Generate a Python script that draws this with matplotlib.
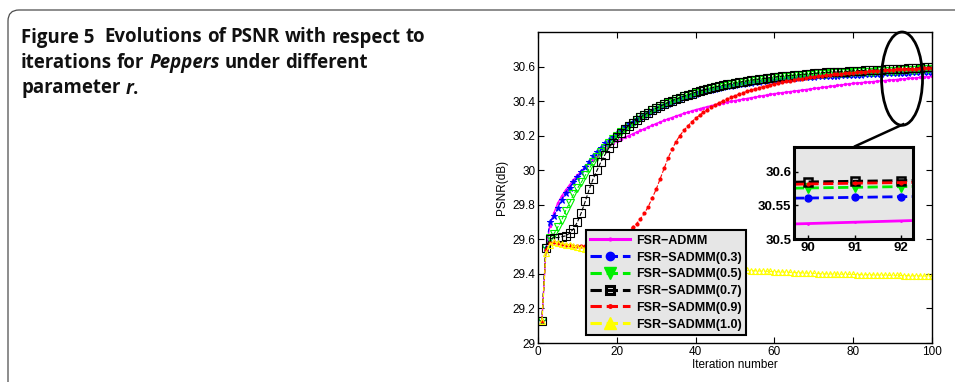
import matplotlib
matplotlib.use("Agg")
import matplotlib.pyplot as plt
from matplotlib.lines import Line2D
from matplotlib.patches import Ellipse, FancyBboxPatch
from matplotlib.ticker import FuncFormatter
from matplotlib.transforms import IdentityTransform

plt.rcParams["font.family"] = ["Liberation Sans", "DejaVu Sans"]

# iteration index
iters = list(range(1, 101))

psnr_admm = [
    29.13, 29.53, 29.68, 29.75, 29.81, 29.85, 29.885, 29.915, 29.945, 29.97,
    29.995, 30.02, 30.04, 30.06, 30.08, 30.10, 30.12, 30.14, 30.155, 30.17,
    30.18, 30.19, 30.20, 30.21, 30.22, 30.23, 30.24, 30.25, 30.26, 30.27,
    30.279, 30.288, 30.297, 30.305, 30.313, 30.321, 30.329, 30.336, 30.343, 30.35,
    30.356, 30.362, 30.368, 30.374, 30.379, 30.384, 30.389, 30.394, 30.398, 30.403,
    30.407, 30.411, 30.415, 30.419, 30.423, 30.427, 30.431, 30.435, 30.439, 30.443,
    30.446, 30.449, 30.452, 30.455, 30.458, 30.461, 30.464, 30.467, 30.47, 30.473,
    30.476, 30.479, 30.482, 30.485, 30.488, 30.491, 30.494, 30.497, 30.5, 30.503,
    30.505, 30.507, 30.509, 30.511, 30.513, 30.515, 30.517, 30.519, 30.521, 30.523,
    30.525, 30.527, 30.529, 30.531, 30.533, 30.535, 30.537, 30.539, 30.541, 30.543,
]
psnr_r03 = [
    29.13, 29.55, 29.70, 29.735, 29.78, 29.83, 29.87, 29.90, 29.93, 29.96,
    29.99, 30.02, 30.05, 30.08, 30.105, 30.13, 30.155, 30.175, 30.195, 30.215,
    30.232, 30.249, 30.265, 30.28, 30.294, 30.308, 30.321, 30.333, 30.344, 30.355,
    30.365, 30.376, 30.386, 30.396, 30.405, 30.414, 30.422, 30.43, 30.437, 30.444,
    30.45, 30.456, 30.462, 30.467, 30.472, 30.477, 30.482, 30.486, 30.49, 30.494,
    30.498, 30.501, 30.504, 30.507, 30.51, 30.513, 30.516, 30.519, 30.521, 30.523,
    30.525, 30.527, 30.529, 30.531, 30.533, 30.535, 30.537, 30.539, 30.541, 30.542,
    30.543, 30.544, 30.545, 30.546, 30.547, 30.548, 30.549, 30.55, 30.551, 30.552,
    30.553, 30.554, 30.555, 30.556, 30.557, 30.558, 30.559, 30.56, 30.5605, 30.561,
    30.562, 30.563, 30.564, 30.565, 30.566, 30.567, 30.568, 30.569, 30.57, 30.571,
]
psnr_r05 = [
    29.13, 29.55, 29.61, 29.63, 29.67, 29.71, 29.765, 29.81, 29.86, 29.895,
    29.93, 29.97, 30.01, 30.045, 30.075, 30.105, 30.13, 30.155, 30.178, 30.2,
    30.22, 30.24, 30.258, 30.275, 30.291, 30.306, 30.32, 30.334, 30.347, 30.359,
    30.37, 30.381, 30.391, 30.401, 30.41, 30.419, 30.427, 30.435, 30.442, 30.449,
    30.456, 30.462, 30.468, 30.474, 30.479, 30.484, 30.489, 30.494, 30.498, 30.502,
    30.506, 30.51, 30.514, 30.517, 30.52, 30.523, 30.526, 30.529, 30.532, 30.535,
    30.537, 30.539, 30.541, 30.543, 30.545, 30.547, 30.549, 30.551, 30.553, 30.555,
    30.557, 30.558, 30.559, 30.56, 30.561, 30.562, 30.563, 30.564, 30.565, 30.566,
    30.567, 30.568, 30.569, 30.57, 30.571, 30.572, 30.573, 30.574, 30.575, 30.576,
    30.577, 30.578, 30.579, 30.58, 30.581, 30.582, 30.583, 30.584, 30.585, 30.586,
]
psnr_r07 = [
    29.13, 29.55, 29.60, 29.61, 29.61, 29.615, 29.62, 29.635, 29.66, 29.70,
    29.755, 29.82, 29.89, 29.95, 30.00, 30.05, 30.09, 30.13, 30.16, 30.19,
    30.215, 30.238, 30.258, 30.276, 30.292, 30.307, 30.321, 30.334, 30.347, 30.359,
    30.37, 30.381, 30.392, 30.402, 30.411, 30.42, 30.428, 30.436, 30.444, 30.451,
    30.458, 30.464, 30.47, 30.476, 30.482, 30.487, 30.492, 30.497, 30.501, 30.505,
    30.509, 30.513, 30.517, 30.521, 30.524, 30.527, 30.53, 30.533, 30.536, 30.539,
    30.542, 30.544, 30.546, 30.548, 30.55, 30.552, 30.554, 30.556, 30.558, 30.56,
    30.562, 30.564, 30.566, 30.567, 30.568, 30.569, 30.57, 30.571, 30.573, 30.575,
    30.576, 30.577, 30.578, 30.579, 30.58, 30.581, 30.582, 30.583, 30.584, 30.585,
    30.586, 30.587, 30.588, 30.589, 30.59, 30.592, 30.594, 30.596, 30.598, 30.6,
]
psnr_r09 = [
    29.13, 29.54, 29.58, 29.585, 29.58, 29.575, 29.57, 29.565, 29.56, 29.56,
    29.56, 29.56, 29.56, 29.565, 29.57, 29.575, 29.58, 29.59, 29.60, 29.61,
    29.62, 29.635, 29.65, 29.67, 29.69, 29.72, 29.75, 29.79, 29.84, 29.89,
    29.95, 30.01, 30.07, 30.12, 30.165, 30.2, 30.23, 30.255, 30.28, 30.3,
    30.318, 30.335, 30.35, 30.365, 30.378, 30.39, 30.401, 30.412, 30.422, 30.431,
    30.44, 30.448, 30.456, 30.463, 30.47, 30.477, 30.483, 30.489, 30.495, 30.5,
    30.505, 30.51, 30.514, 30.518, 30.522, 30.526, 30.53, 30.534, 30.537, 30.54,
    30.543, 30.546, 30.549, 30.552, 30.555, 30.557, 30.559, 30.561, 30.563, 30.565,
    30.567, 30.569, 30.571, 30.573, 30.574, 30.575, 30.576, 30.578, 30.58, 30.582,
    30.583, 30.584, 30.585, 30.586, 30.587, 30.588, 30.589, 30.59, 30.591, 30.592,
]
psnr_r10 = [
    29.13, 29.52, 29.57, 29.585, 29.58, 29.575, 29.57, 29.565, 29.56, 29.555,
    29.55, 29.545, 29.54, 29.535, 29.53, 29.525, 29.52, 29.515, 29.51, 29.505,
    29.5, 29.496, 29.492, 29.488, 29.484, 29.48, 29.476, 29.472, 29.468, 29.465,
    29.462, 29.459, 29.456, 29.453, 29.45, 29.447, 29.444, 29.442, 29.44, 29.438,
    29.436, 29.434, 29.432, 29.43, 29.428, 29.427, 29.426, 29.425, 29.424, 29.423,
    29.422, 29.421, 29.42, 29.419, 29.418, 29.417, 29.416, 29.415, 29.414, 29.413,
    29.412, 29.411, 29.41, 29.409, 29.408, 29.407, 29.406, 29.405, 29.404, 29.403,
    29.402, 29.401, 29.4, 29.4, 29.399, 29.399, 29.398, 29.398, 29.397, 29.397,
    29.396, 29.396, 29.395, 29.395, 29.394, 29.394, 29.393, 29.393, 29.392, 29.392,
    29.391, 29.391, 29.39, 29.39, 29.389, 29.389, 29.388, 29.388, 29.387, 29.387,
]

labels = ["FSR\u2212ADMM", "FSR\u2212SADMM(0.3)", "FSR\u2212SADMM(0.5)",
          "FSR\u2212SADMM(0.7)", "FSR\u2212SADMM(0.9)", "FSR\u2212SADMM(1.0)"]

W, H = 955, 382
fig = plt.figure(figsize=(W / 100, H / 100), dpi=100)

# rounded caption frame in pixel units (cropped on the right and bottom)
frame = FancyBboxPatch((8, -40), 1000, H + 30,
                       boxstyle="round,pad=0,rounding_size=11",
                       transform=IdentityTransform(), fill=False,
                       edgecolor="#4d4d4d", linewidth=0.9)
fig.patches.append(frame)

ax = fig.add_axes([538 / W, 1 - 343 / H, 394 / W, 311 / H])

ax.plot(iters, psnr_admm, color="magenta", ls="-", lw=1.0, marker=".", ms=3)
ax.plot(iters, psnr_r03, color="blue", ls="--", lw=0.8, marker="*", ms=5, mew=0.7)
ax.plot(iters, psnr_r05, color="#00ee00", ls="--", lw=0.8, marker="v", ms=6,
        mfc="none", mew=0.8)
ax.plot(iters, psnr_r07, color="black", ls="--", lw=0.8, marker="s", ms=6,
        mfc="none", mew=0.8)
ax.plot(iters, psnr_r09, color="red", ls="--", lw=0.8, marker=".", ms=4)
ax.plot(iters, psnr_r10, color="yellow", ls="--", lw=0.8, marker="^", ms=5,
        mfc="none", mew=0.8)

ax.set_xlim(0, 100)
ax.set_ylim(29, 30.8)
ax.set_xticks([0, 20, 40, 60, 80, 100])
ax.set_yticks([29, 29.2, 29.4, 29.6, 29.8, 30, 30.2, 30.4, 30.6])
ax.yaxis.set_major_formatter(FuncFormatter(lambda v, p: "%g" % round(v, 1)))
ax.tick_params(direction="in", top=True, right=True, length=4, width=0.8,
               labelsize=8.5, pad=2)
for s in ax.spines.values():
    s.set_linewidth(1.0)
ax.set_xlabel("Iteration number", fontsize=8.5, labelpad=1)
ax.set_ylabel("PSNR(dB)", fontsize=8.5, labelpad=3)

# zoom ellipse and connector
ax.add_patch(Ellipse((92.4, 30.53), 10.4, 0.54, fill=False, edgecolor="black",
                     linewidth=2.0, zorder=10, clip_on=False))
ax.plot([92.7, 80.5], [30.266, 30.139], color="black", lw=1.8, zorder=10,
        clip_on=False)

# legend with filled markers
handles = [
    Line2D([], [], color="magenta", ls="-", lw=2.2, marker=".", ms=4),
    Line2D([], [], color="blue", ls="--", lw=2.2, marker="o", ms=6),
    Line2D([], [], color="#00ee00", ls="--", lw=2.2, marker="v", ms=9),
    Line2D([], [], color="black", ls="--", lw=2.2, marker="s", ms=6,
           mfc="none", mew=2.2),
    Line2D([], [], color="red", ls="--", lw=2.2, marker=".", ms=5),
    Line2D([], [], color="yellow", ls="--", lw=2.2, marker="^", ms=9),
]
leg = ax.legend(handles, labels, loc="lower left",
                bbox_to_anchor=(0.121, 0.026), borderaxespad=0,
                prop={"weight": "bold", "size": 9}, handlelength=3.2,
                handletextpad=0.5, labelspacing=0.38, borderpad=0.35,
                frameon=True, fancybox=False, facecolor="#e6e6e6",
                edgecolor="black", framealpha=1)
leg.get_frame().set_linewidth(1.5)

# inset
axin = fig.add_axes([794 / W, 1 - 239 / H, 119 / W, 92 / H])
axin.set_facecolor("#e6e6e6")
axin.plot(iters, psnr_admm, color="magenta", ls="-", lw=2.0, marker=".", ms=2)
axin.plot(iters, psnr_r03, color="blue", ls="--", lw=2.0, marker="o", ms=5)
axin.plot(iters, psnr_r05, color="#00ee00", ls="--", lw=2.0, marker="v", ms=7)
axin.plot(iters, psnr_r07, color="black", ls="--", lw=2.0, marker="s", ms=6,
          mfc="none", mew=1.8)
axin.plot(iters, psnr_r09, color="red", ls="--", lw=2.0, marker=".", ms=4)
axin.set_xlim(89.7, 92.25)
axin.set_ylim(30.5, 30.637)
axin.set_xticks([90, 91, 92])
axin.set_yticks([30.5, 30.55, 30.6])
axin.set_yticklabels(["30.5", "30.55", "30.6"])
axin.tick_params(direction="in", length=3, width=1, labelsize=9.5, pad=2)
for lab in axin.get_xticklabels() + axin.get_yticklabels():
    lab.set_fontweight("bold")
for s in axin.spines.values():
    s.set_linewidth(2.2)

# caption with bold / bold-italic runs
cap_font = dict(fontsize=13.4, fontweight="bold",
                family=["Open Sans", "DejaVu Sans"],
                color="#111111", va="baseline", ha="left")
renderer = fig.canvas.get_renderer()


def text_width(s, style):
    t = fig.text(0, 0, s, fontstyle=style, **cap_font)
    w = t.get_window_extent(renderer).width
    t.remove()
    return w


space = text_width("x x", "normal") - text_width("xx", "normal")

caption = [
    [("Figure 5", "normal", 2), ("Evolutions", "normal", 1), ("of", "normal", 1),
     ("PSNR", "normal", 1), ("with", "normal", 1), ("respect", "normal", 1),
     ("to", "normal", 0)],
    [("iterations", "normal", 1), ("for", "normal", 1), ("Peppers", "italic", 1),
     ("under", "normal", 1), ("different", "normal", 0)],
    [("parameter", "normal", 1), ("r", "italic", 0), (".", "normal", 0)],
]
baselines = [42.5, 68, 93.5]
for line, yb in zip(caption, baselines):
    x = 21.0
    for word, style, gaps in line:
        t = fig.text(x / W, 1 - yb / H, word, fontstyle=style, **cap_font)
        x += t.get_window_extent(renderer).width + gaps * space

fig.savefig("out.png", dpi=100)
